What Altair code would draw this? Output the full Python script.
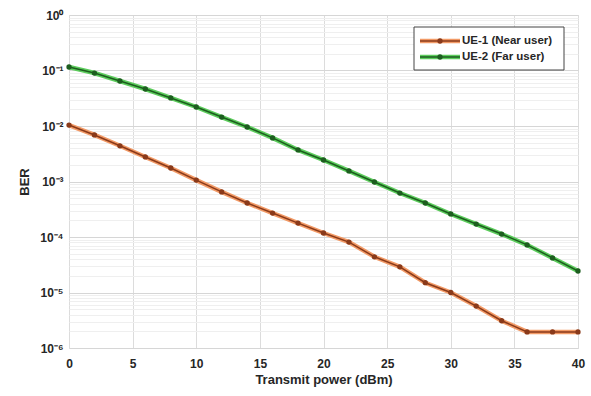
import altair as alt
import pandas as pd

# Data
power = [0, 2, 4, 6, 8, 10, 12, 14, 16, 18, 20, 22, 24, 26, 28, 30, 32, 34, 36, 38, 40]
ber_near = [0.0104, 0.0069, 0.0044, 0.00277, 0.00175, 0.00106, 0.00065, 0.00041, 0.00027,
            0.000178, 0.000118, 8.1e-5, 4.4e-5, 2.9e-5, 1.5e-5, 1.0e-5, 5.7e-6, 3.1e-6,
            1.95e-6, 1.95e-6, 1.95e-6]
ber_far = [0.1157, 0.090, 0.0647, 0.0464, 0.032, 0.022, 0.0145, 0.0096, 0.0061, 0.0037,
           0.00244, 0.00155, 0.00098, 0.00062, 0.00041, 0.00026, 0.000171, 0.000113,
           7.2e-5, 4.2e-5, 2.44e-5]
series_names = ["UE-1 (Near user)", "UE-2 (Far user)"]
halo_colors = ["#f29a66", "#5ccc5c"]
core_colors = ["#8a3a1a", "#1d5e1f"]
x_ticks = [0, 5, 10, 15, 20, 25, 30, 35, 40]
y_ticks = [m * 10.0 ** k for k in range(-6, 0) for m in range(1, 10)] + [1.0]

rows = []
for name, vals in zip(series_names, [ber_near, ber_far]):
    for p, v in zip(power, vals):
        rows.append({"power": p, "ber": v, "series": name})
df = pd.DataFrame(rows)

FONT = "Liberation Sans"
TXT = "#262626"

is_major = "abs(log(datum.value)/LN10 - round(log(datum.value)/LN10)) < 0.001"
label_expr = (is_major + " ? '10' + ['⁻⁶','⁻⁵','⁻⁴','⁻³','⁻²','⁻¹','⁰']"
              "[round(log(datum.value)/LN10) + 6] : ''")

x_enc = alt.X("power:Q",
              scale=alt.Scale(domain=[0, 40], nice=False, zero=False),
              axis=alt.Axis(values=x_ticks, title="Transmit power (dBm)", ticks=False,
                            labelPadding=10, titlePadding=4, labelFontSize=12,
                            labelFontWeight="bold", labelColor=TXT, titleFontSize=13,
                            titleFontWeight="bold", titleColor=TXT, labelFont=FONT,
                            titleFont=FONT, domain=False, gridColor="#dcdcdc",
                            labelFlush=False))
y_enc = alt.Y("ber:Q",
              scale=alt.Scale(type="log", domain=[1e-6, 1], nice=False),
              axis=alt.Axis(values=y_ticks, labelExpr=label_expr, title="BER", ticks=False,
                            labelPadding=6, titlePadding=8, labelFontSize=12,
                            labelFontWeight="bold", labelColor=TXT, titleFontSize=13,
                            titleFontWeight="bold", titleColor=TXT, labelFont=FONT,
                            titleFont=FONT, domain=False,
                            gridColor={"condition": {"test": is_major, "value": "#d6d6d6"},
                                       "value": "#efefef"},
                            labelFlush=False, labelOverlap=False))

color_halo = alt.Color("series:N", scale=alt.Scale(domain=series_names, range=halo_colors),
                       legend=None)
color_core = alt.Color("series:N", scale=alt.Scale(domain=series_names, range=core_colors),
                       legend=None)

base = alt.Chart(df)
halo = base.mark_line(strokeWidth=4.5).encode(x=x_enc, y=y_enc, color=color_halo)
core_layer = alt.layer(
    base.mark_line(strokeWidth=1.5).encode(x="power:Q", y="ber:Q", color=color_core),
    base.mark_point(filled=True, size=28, opacity=1).encode(x="power:Q", y="ber:Q",
                                                            color=color_core),
)

# manual legend (MATLAB-style box)
legend_box = alt.Chart(pd.DataFrame({"a": [0]})).mark_rect(
    fill="white", stroke="#444", strokeWidth=1).encode(
    x=alt.value(345), x2=alt.value(495), y=alt.value(12), y2=alt.value(55))
legend_layers = [legend_box]
for i, name in enumerate(series_names):
    yy = 26 + 16 * i
    d = pd.DataFrame({"series": [name]})
    legend_layers.append(alt.Chart(d).mark_rule(strokeWidth=4.5, color=halo_colors[i]).encode(
        x=alt.value(351), x2=alt.value(391), y=alt.value(yy)))
    legend_layers.append(alt.Chart(d).mark_rule(strokeWidth=1.5, color=core_colors[i]).encode(
        x=alt.value(351), x2=alt.value(391), y=alt.value(yy)))
    legend_layers.append(alt.Chart(d).mark_point(filled=True, size=28, opacity=1, color=core_colors[i]).encode(
        x=alt.value(371), y=alt.value(yy)))
    legend_layers.append(alt.Chart(d).mark_text(align="left", baseline="middle", fontSize=11.5,
                                                fontWeight="bold", font=FONT, color=TXT).encode(
        x=alt.value(393), y=alt.value(yy), text="series:N"))

chart = alt.layer(halo, core_layer, *legend_layers).resolve_scale(
    color="independent"
).properties(
    width=509, height=333,
    autosize=alt.AutoSizeParams(type="none"),
    padding={"left": 69, "top": 15, "right": 13, "bottom": 48},
).configure_view(stroke="#333333", strokeWidth=1).configure(background="white")

chart.save("out.html", embed_options={"renderer": "svg", "actions": False})
